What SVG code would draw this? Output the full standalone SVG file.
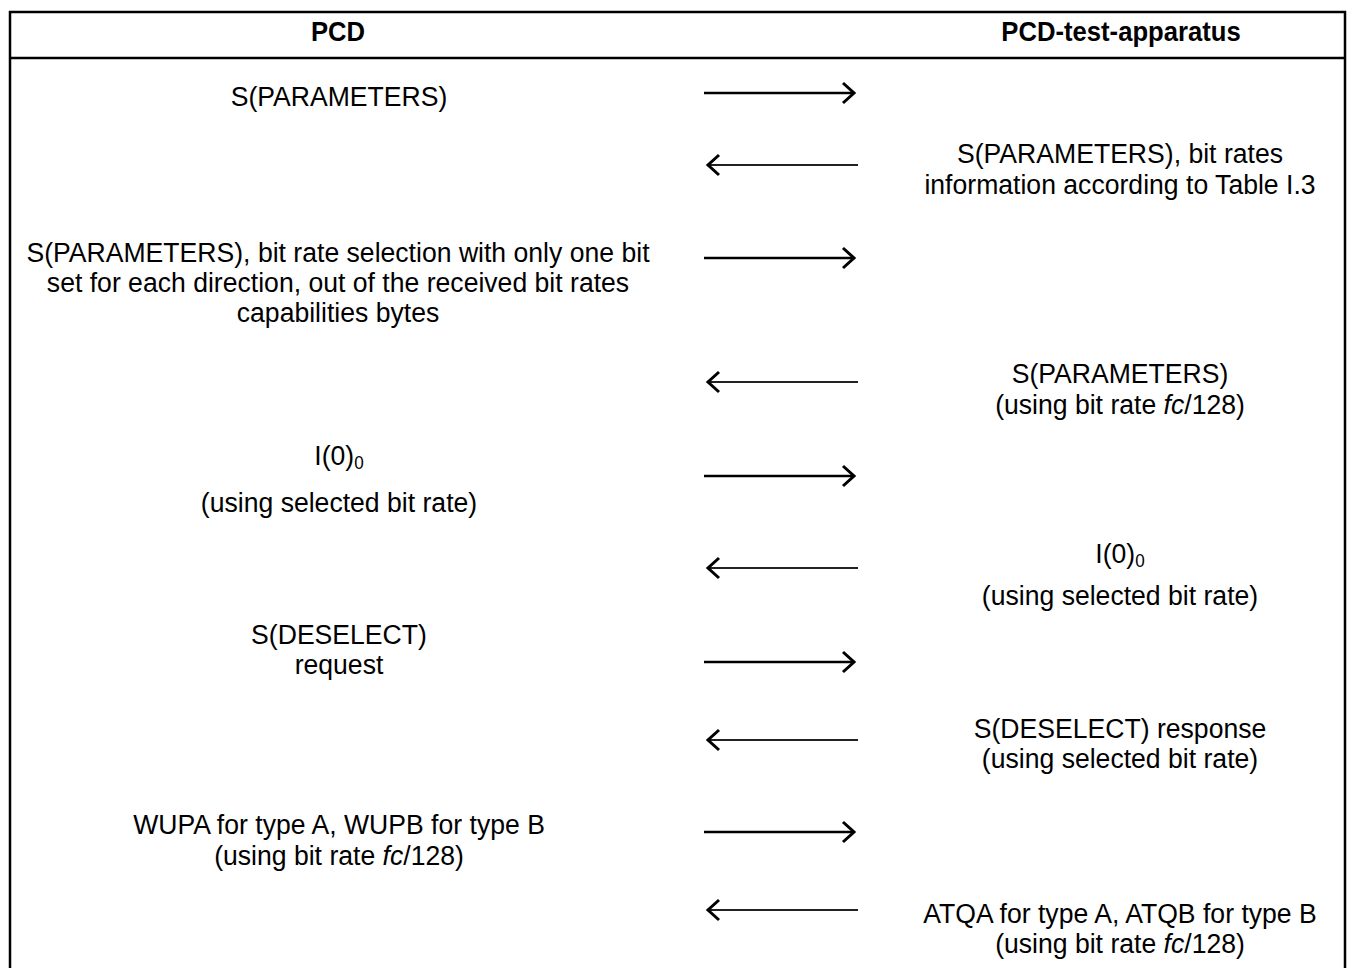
<svg xmlns="http://www.w3.org/2000/svg" width="1349" height="968" viewBox="0 0 1349 968">
<style>
text{font-family:"Liberation Sans",Arial,sans-serif;font-size:28px;fill:#000;text-anchor:middle}
.h{font-weight:bold;font-size:27px}
.sub{font-size:18px}
.frame{fill:none;stroke:#000;stroke-width:2.5}
.fw{stroke:#000;stroke-width:2.4;fill:none}
.bw{stroke:#222;stroke-width:2;fill:none}
.head{stroke:#000;stroke-width:3;fill:none;stroke-linejoin:miter;stroke-linecap:butt}
</style>
<rect width="1349" height="968" fill="#fff"/>
<g id="frame">
<path class="frame" d="M10,970 V12 H1345 V970 M10,58 H1345"/>
</g>
<g id="header">
<text class="h" transform="translate(338,0) scale(0.95,1)" x="0" y="41">PCD</text>
<text class="h" transform="translate(1121,0) scale(0.95,1)" x="0" y="41">PCD-test-apparatus</text>
</g>
<g id="connectors">
<line class="fw" x1="704" y1="93" x2="853" y2="93"/><path class="head" d="M843,83 L854,93 L843,103"/>
<line class="bw" x1="709" y1="165" x2="858" y2="165"/><path class="head" d="M719,155 L708,165 L719,175"/>
<line class="fw" x1="704" y1="258" x2="853" y2="258"/><path class="head" d="M843,248 L854,258 L843,268"/>
<line class="bw" x1="709" y1="382" x2="858" y2="382"/><path class="head" d="M719,372 L708,382 L719,392"/>
<line class="fw" x1="704" y1="476" x2="853" y2="476"/><path class="head" d="M843,466 L854,476 L843,486"/>
<line class="bw" x1="709" y1="568" x2="858" y2="568"/><path class="head" d="M719,558 L708,568 L719,578"/>
<line class="fw" x1="704" y1="662" x2="853" y2="662"/><path class="head" d="M843,652 L854,662 L843,672"/>
<line class="bw" x1="709" y1="740" x2="858" y2="740"/><path class="head" d="M719,730 L708,740 L719,750"/>
<line class="fw" x1="704" y1="832" x2="853" y2="832"/><path class="head" d="M843,822 L854,832 L843,842"/>
<line class="bw" x1="709" y1="910" x2="858" y2="910"/><path class="head" d="M719,900 L708,910 L719,920"/>
</g>
<g id="m1">
<text transform="translate(339,0) scale(0.95,1)" x="0" y="106">S(PARAMETERS)</text>
</g>
<g id="m2">
<text transform="translate(1120,0) scale(0.95,1)" x="0" y="163">S(PARAMETERS), bit rates</text>
<text transform="translate(1120,0) scale(0.95,1)" x="0" y="194">information according to Table I.3</text>
</g>
<g id="m3">
<text transform="translate(338,0) scale(0.95,1)" x="0" y="262">S(PARAMETERS), bit rate selection with only one bit</text>
<text transform="translate(338,0) scale(0.95,1)" x="0" y="292">set for each direction, out of the received bit rates</text>
<text transform="translate(338,0) scale(0.95,1)" x="0" y="322">capabilities bytes</text>
</g>
<g id="m4">
<text transform="translate(1120,0) scale(0.95,1)" x="0" y="383">S(PARAMETERS)</text>
<text transform="translate(1120,0) scale(0.95,1)" x="0" y="414">(using bit rate <tspan font-style="italic">fc</tspan>/128)</text>
</g>
<g id="m5">
<text transform="translate(339,0) scale(0.95,1)" x="0" y="465">I(0)<tspan class="sub" dy="4">0</tspan></text>
<text transform="translate(339,0) scale(0.95,1)" x="0" y="512">(using selected bit rate)</text>
</g>
<g id="m6">
<text transform="translate(1120,0) scale(0.95,1)" x="0" y="563">I(0)<tspan class="sub" dy="4">0</tspan></text>
<text transform="translate(1120,0) scale(0.95,1)" x="0" y="605">(using selected bit rate)</text>
</g>
<g id="m7">
<text transform="translate(339,0) scale(0.95,1)" x="0" y="644">S(DESELECT)</text>
<text transform="translate(339,0) scale(0.95,1)" x="0" y="674">request</text>
</g>
<g id="m8">
<text transform="translate(1120,0) scale(0.95,1)" x="0" y="738">S(DESELECT) response</text>
<text transform="translate(1120,0) scale(0.95,1)" x="0" y="768">(using selected bit rate)</text>
</g>
<g id="m9">
<text transform="translate(339,0) scale(0.95,1)" x="0" y="834">WUPA for type A, WUPB for type B</text>
<text transform="translate(339,0) scale(0.95,1)" x="0" y="865">(using bit rate <tspan font-style="italic">fc</tspan>/128)</text>
</g>
<g id="m10">
<text transform="translate(1120,0) scale(0.95,1)" x="0" y="923">ATQA for type A, ATQB for type B</text>
<text transform="translate(1120,0) scale(0.95,1)" x="0" y="953">(using bit rate <tspan font-style="italic">fc</tspan>/128)</text>
</g>
</svg>
